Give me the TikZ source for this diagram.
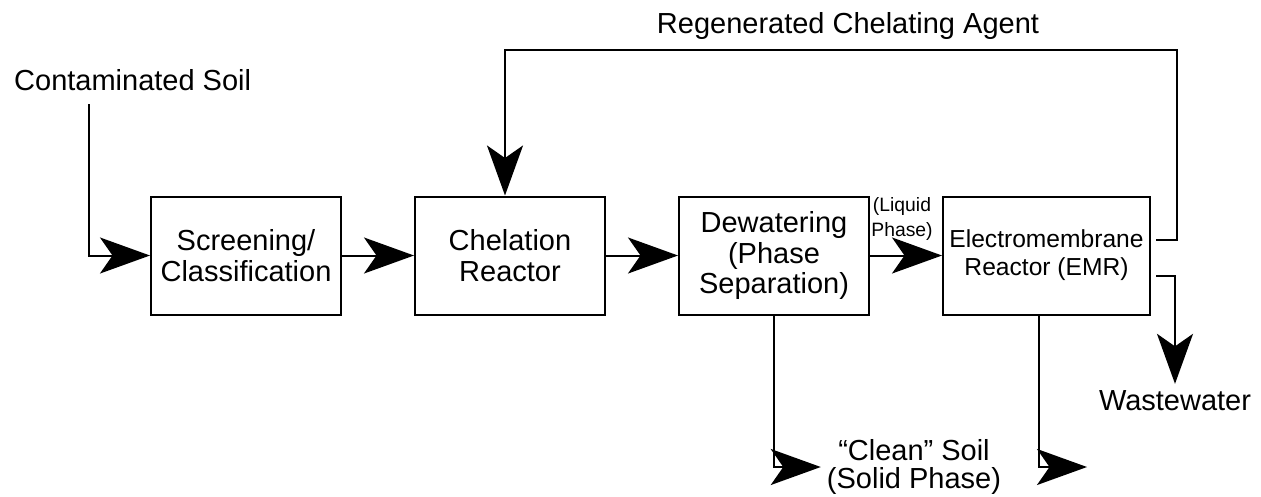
\documentclass[tikz,border=0pt]{standalone}
\usepackage{fontspec}
\setmainfont{Liberation Sans}
\usepackage{tikz}
\usetikzlibrary{arrows.meta, positioning}
\tikzstyle{unit}=[rectangle, draw, line width=0.04cm, minimum width=3.8cm, minimum height=2.36cm, align=center, font=\fontsize{16.5}{17.5}\selectfont]
\tikzstyle{flow}=[line width=0.04cm, -{Stealth[length=1cm, width=0.72cm, inset=0.25cm]}]
\tikzstyle{lbl}=[font=\fontsize{16.5}{17.5}\selectfont]

\begin{document}
\begin{tikzpicture}
\useasboundingbox (0,0) rectangle (25.22,-9.92);

% Process units
\node[unit] (scr) at (4.92,-5.11) {Screening/\\Classification};
\node[unit, right=1.44cm of scr] (chel) {Chelation\\Reactor};
\node[unit, right=1.44cm of chel] (dew) {Dewatering\\(Phase\\Separation)};
\node[unit, right=1.44cm of dew, minimum width=4.14cm, font=\fontsize{14}{16}\selectfont] (emr) {Electromembrane\\Reactor (EMR)};

% Labels
\node[lbl, anchor=base west] (soil) at (0.16,-1.8) {Contaminated Soil};
\node[lbl, anchor=base] (agent) at (16.96,-0.66) {Regenerated Chelating Agent};
\node[lbl, anchor=base] (ww) at (23.5,-8.2) {Wastewater};
\node[lbl, align=center, font=\fontsize{16.5}{15.5}\selectfont] (clean) at (18.28,-9.34) {``Clean'' Soil\\(Solid Phase)};
\node[align=center, font=\fontsize{11}{13.7}\selectfont, inner sep=0pt] (liq) at (18.04,-4.38) {(Liquid\\Phase)};

\coordinate (soilin) at (1.78,-2.08);
\coordinate (ret) at (23.54,-1.0);
\coordinate (emrout) at (21.74,-9.34);

% Arrows
\draw[flow] (soilin) |- (scr.west);
\draw[flow] (scr) -- (chel);
\draw[flow] (chel) -- (dew);
\draw[flow] (dew) -- (emr);
\draw[flow] ([shift={(0.1,0.31)}]emr.east) -| (ret) -| ([xshift=-0.1cm]chel.north);
\draw[flow] ([shift={(0.1,-0.41)}]emr.east) -| (ww.north);
\draw[flow] (dew.south) |- (clean.west);
\draw[flow] ([xshift=-0.15cm]emr.south) |- (emrout);

\end{tikzpicture}
\end{document}
